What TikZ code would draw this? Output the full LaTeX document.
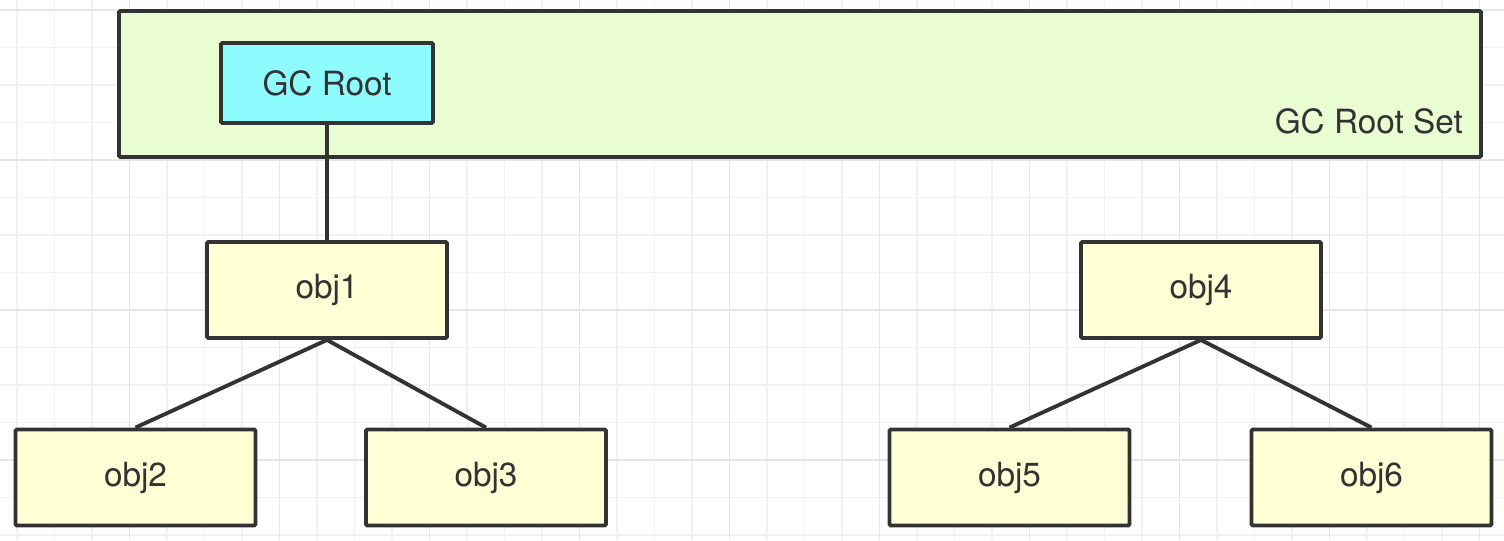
\documentclass[tikz,border=0pt]{standalone}
\usepackage{fontspec}
\setmainfont{TeX Gyre Heros}
\begin{document}
\begin{tikzpicture}[x=0.75pt,y=-0.75pt,
  box/.style={draw=linec, line width=2.9pt, rounded corners=1pt, inner sep=0pt, text=textc,
    font=\fontsize{25}{29}\selectfont},
  objbox/.style={box, fill=objfill, minimum width=180pt, minimum height=72pt},
  conn/.style={draw=linec, line width=2.9pt},
  minorgrid/.style={draw=gridminor, line width=0.9pt},
  majorgrid/.style={draw=gridmajor, line width=1.2pt}]
\definecolor{linec}{HTML}{333333}
\definecolor{textc}{HTML}{333333}
\definecolor{objfill}{HTML}{FFFFD6}
\definecolor{setfill}{HTML}{EAFCD2}
\definecolor{rootfill}{HTML}{8EFBFF}
\definecolor{gridminor}{HTML}{F1F1F1}
\definecolor{gridmajor}{HTML}{E6E6E6}
\useasboundingbox[fill=white] (0,0) rectangle (1504,540);
% grid
\foreach \k in {0,...,39} { \draw[minorgrid] ({17+37.5*\k},0) -- ({17+37.5*\k},540); }
\foreach \k in {0,...,14} { \draw[minorgrid] (0,{10+37.5*\k}) -- (1504,{10+37.5*\k}); }
\foreach \k in {0,...,9} { \draw[majorgrid] ({129.5+150*\k},0) -- ({129.5+150*\k},540); }
\foreach \k in {0,...,3} { \draw[majorgrid] (0,{10+150*\k}) -- (1504,{10+150*\k}); }
% root set
\node[box, fill=setfill, minimum width=1021.5pt, minimum height=109.5pt] (rootset) at (800,84) {};
\node[text=textc, font=\fontsize{25}{29}\selectfont, anchor=east, inner sep=0pt] (setlabel) at (1463,121) {GC Root Set};
\node[box, fill=rootfill, minimum width=159pt, minimum height=60pt] (gcroot) at (327,83) {GC Root};
% objects
\node[objbox] (obj1) at (327,290) {obj1};
\node[objbox] (obj4) at (1201,290) {obj4};
\node[objbox] (obj2) at (135.5,477.5) {obj2};
\node[objbox] (obj3) at (486,477.5) {obj3};
\node[objbox] (obj5) at (1009.5,477.5) {obj5};
\node[objbox] (obj6) at (1371.5,477.5) {obj6};
% connectors
\draw[conn] (gcroot.south) -- (obj1.north);
\draw[conn] (obj1.south) -- (obj2.north);
\draw[conn] (obj1.south) -- (obj3.north);
\draw[conn] (obj4.south) -- (obj5.north);
\draw[conn] (obj4.south) -- (obj6.north);
\end{tikzpicture}
\end{document}
